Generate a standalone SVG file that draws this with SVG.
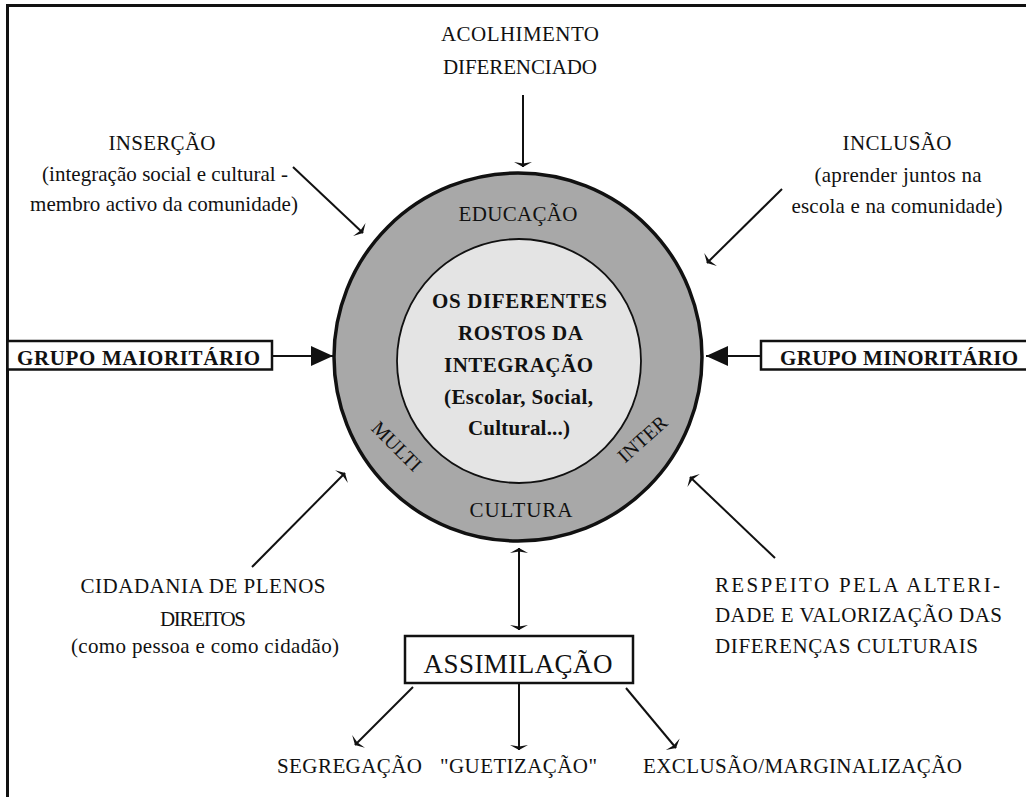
<svg xmlns="http://www.w3.org/2000/svg" width="1026" height="797" viewBox="0 0 1026 797">
<style>
text{font-family:'Liberation Serif','Times New Roman',Tinos,'DejaVu Serif',serif;font-size:21px;fill:#111}
.b{font-weight:bold}
.m{text-anchor:middle}
.ln{stroke:#111;stroke-width:2;fill:none}
.box{fill:#fff;stroke:#111;stroke-width:2.5}
</style>
<defs>
<marker id="tb" viewBox="-2 -10 8 20" refX="4" refY="0" markerWidth="8" markerHeight="20" markerUnits="userSpaceOnUse" orient="auto-start-reverse">
<path d="M-1,-9 L4,0 L-1,9 L0.5,0 Z" fill="#111"/>
</marker>
<marker id="sol" viewBox="0 -10 22 20" refX="22" refY="0" markerWidth="22" markerHeight="20" markerUnits="userSpaceOnUse" orient="auto">
<path d="M0,-10 L22,0 L0,10 Z" fill="#111"/>
</marker>
</defs>
<rect width="1026" height="797" fill="#fff"/>
<g id="frame">
<path d="M7.5,797 V5.5 H1026" class="ln" style="stroke-width:3"/>
</g>
<g id="circle" font-family="Liberation Serif, serif">
<circle cx="518" cy="357" r="184" fill="#a8a8a8" stroke="#111" stroke-width="3.5"/>
<circle cx="519" cy="361" r="122" fill="#e4e4e4" stroke="#111" stroke-width="1.8"/>
<text class="m" x="518" y="221" textLength="119">EDUCAÇÃO</text>
<text class="m" x="521" y="517" textLength="103">CULTURA</text>
<text class="m" transform="translate(392,451) rotate(45)" style="font-size:20px">MULTI</text>
<text class="m" transform="translate(647,444) rotate(-42)" style="font-size:20px">INTER</text>
<text class="b m" x="519.5" y="308" textLength="175">OS DIFERENTES</text>
<text class="b m" x="520.5" y="340" textLength="125">ROSTOS DA</text>
<text class="b m" x="518.5" y="372" textLength="149">INTEGRAÇÃO</text>
<text class="b m" x="518.5" y="404" textLength="149">(Escolar, Social,</text>
<text class="b m" x="519" y="435" textLength="102">Cultural...)</text>
</g>
<g id="acolhimento">
<text class="m" x="520" y="41" textLength="158">ACOLHIMENTO</text>
<text class="m" x="520" y="74" textLength="154">DIFERENCIADO</text>
</g>
<g id="insercao">
<text class="m" x="162" y="150" textLength="107">INSERÇÃO</text>
<text class="m" x="165" y="181" textLength="246">(integração social e cultural -</text>
<text class="m" x="164" y="211" textLength="268">membro activo da comunidade)</text>
</g>
<g id="inclusao">
<text class="m" x="897" y="150" textLength="109">INCLUSÃO</text>
<text class="m" x="898" y="182" textLength="167">(aprender juntos na</text>
<text class="m" x="897" y="213" textLength="211">escola e na comunidade)</text>
</g>
<g id="grupo-maioritario">
<rect class="box" x="7.5" y="341" width="264.5" height="28.5"/>
<text class="b" x="17" y="365" textLength="243">GRUPO MAIORITÁRIO</text>
</g>
<g id="grupo-minoritario">
<rect class="box" x="761" y="341" width="280" height="28.5"/>
<text class="b" x="780" y="365" textLength="238">GRUPO MINORITÁRIO</text>
</g>
<g id="cidadania">
<text class="m" x="203" y="593" textLength="245">CIDADANIA DE PLENOS</text>
<text class="m" x="203" y="626" textLength="86">DIREITOS</text>
<text class="m" x="205" y="653" textLength="268">(como pessoa e como cidadão)</text>
</g>
<g id="respeito">
<text x="715" y="592" textLength="285" lengthAdjust="spacing">RESPEITO  PELA  ALTERI-</text>
<text x="715" y="622" textLength="287" lengthAdjust="spacing">DADE E VALORIZAÇÃO DAS</text>
<text x="715" y="653" textLength="263" lengthAdjust="spacing">DIFERENÇAS CULTURAIS</text>
</g>
<g id="assimilacao">
<rect class="box" x="405" y="636" width="228" height="47"/>
<text class="m" x="518" y="673" textLength="189" style="font-size:27px">ASSIMILAÇÃO</text>
</g>
<g id="segregacao"><text x="277" y="773" textLength="145">SEGREGAÇÃO</text></g>
<g id="guetizacao"><text x="440" y="773" textLength="157">"GUETIZAÇÃO"</text></g>
<g id="exclusao"><text x="643" y="773" textLength="319">EXCLUSÃO/MARGINALIZAÇÃO</text></g>
<g id="connectors">
<line class="ln" x1="523" y1="95" x2="523" y2="167" marker-end="url(#tb)"/>
<line class="ln" x1="293" y1="167" x2="363" y2="233" marker-end="url(#tb)"/>
<line class="ln" x1="782" y1="189" x2="707" y2="263" marker-end="url(#tb)"/>
<line class="ln" x1="252" y1="567" x2="345" y2="473" marker-end="url(#tb)"/>
<line class="ln" x1="775" y1="558" x2="690" y2="477" marker-end="url(#tb)"/>
<line class="ln" x1="519" y1="548" x2="519" y2="630" marker-start="url(#tb)" marker-end="url(#tb)"/>
<line class="ln" x1="413" y1="687" x2="355" y2="745" marker-end="url(#tb)"/>
<line class="ln" x1="519" y1="683" x2="519" y2="750" marker-end="url(#tb)"/>
<line class="ln" x1="626" y1="688" x2="676" y2="748" marker-end="url(#tb)"/>
<line class="ln" x1="272" y1="356" x2="333" y2="356" marker-end="url(#sol)"/>
<line class="ln" x1="761" y1="356" x2="706" y2="356" marker-end="url(#sol)"/>
</g>
</svg>
